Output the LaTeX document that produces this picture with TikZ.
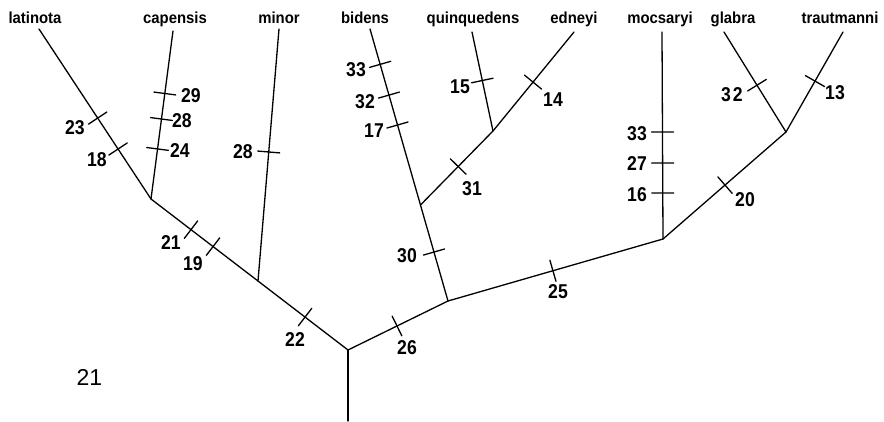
\documentclass[tikz,border=0pt]{standalone}
\usepackage{fontspec}
\setmainfont{Liberation Sans}
\newfontfamily\namefont[FakeStretch=0.93]{Liberation Sans}
\newfontfamily\numfont[FakeStretch=0.88]{Liberation Sans}
\begin{document}
\begin{tikzpicture}[x=1pt,y=-1pt,line width=1.3pt,line cap=round,line join=round,
  tipname/.style={font=\namefont\bfseries\fontsize{16}{16}\selectfont,anchor=base,inner sep=0},
  num/.style={font=\numfont\bfseries\fontsize{20}{20}\selectfont,inner sep=0},
  brtick/.pic={\draw (0,-11) -- (0,11);}]
\useasboundingbox (0,0) rectangle (884,422);
% junctions and tips
\coordinate (R) at (348,350);
\coordinate (Rb) at (348,421);
\coordinate (A) at (151,199);
\coordinate (M) at (258,281);
\coordinate (L) at (39,29);
\coordinate (Cp) at (173,31);
\coordinate (Mi) at (279,29);
\coordinate (B) at (448,301);
\coordinate (Bi) at (370,29);
\coordinate (C) at (420.5,205);
\coordinate (D) at (493,131);
\coordinate (Ed) at (574,32);
\coordinate (Q) at (472,32);
\coordinate (E) at (663,239);
\coordinate (Mo) at (662,32);
\coordinate (F) at (786,132);
\coordinate (G) at (724,32);
\coordinate (T) at (843,32);
% branches
\draw (Rb) -- (R);
\draw (R) -- (A) pic[pos=0.218,sloped]{brtick} pic[pos=0.685,sloped]{brtick} pic[pos=0.797,sloped]{brtick};
\draw (A) -- (L) pic[pos=0.294,sloped]{brtick} pic[pos=0.476,sloped]{brtick};
\draw (A) -- (Cp) pic[pos=0.298,sloped]{brtick} pic[pos=0.476,sloped]{brtick} pic[pos=0.628,sloped]{brtick};
\draw (M) -- (Mi) pic[pos=0.512,sloped]{brtick};
\draw (R) -- (B) pic[pos=0.49,sloped]{brtick};
\draw (B) -- (Bi) pic[pos=0.18,sloped]{brtick} pic[pos=0.647,sloped]{brtick} pic[pos=0.757,sloped]{brtick} pic[pos=0.87,sloped]{brtick};
\draw (C) -- (D) pic[pos=0.52,sloped]{brtick};
\draw (D) -- (Ed) pic[pos=0.494,sloped]{brtick};
\draw (D) -- (Q) pic[pos=0.51,sloped]{brtick};
\draw (B) -- (E) pic[pos=0.488,sloped]{brtick};
\draw (E) -- (Mo) pic[pos=0.222,sloped]{brtick} pic[pos=0.367,sloped]{brtick} pic[pos=0.517,sloped]{brtick};
\draw (E) -- (F) pic[pos=0.504,sloped]{brtick};
\draw (F) -- (G) pic[pos=0.468,sloped]{brtick};
\draw (F) -- (T) pic[pos=0.509,sloped]{brtick};
% taxon names
\node[tipname] (nlat) at (35,24) {latinota};
\node[tipname] (ncap) at (175,24) {capensis};
\node[tipname] (nmin) at (279,24) {minor};
\node[tipname] (nbid) at (365,24) {bidens};
\node[tipname] (nqui) at (473,24) {quinquedens};
\node[tipname] (nedn) at (574,24) {edneyi};
\node[tipname] (nmoc) at (660,24) {mocsaryi};
\node[tipname] (ngla) at (733,24) {glabra};
\node[tipname] (ntra) at (840,24) {trautmanni};
% character numbers
\node[num] (c23) at (75,128) {23};
\node[num] (c18) at (97,160) {18};
\node[num] (c29) at (191,96) {29};
\node[num] (c28a) at (182,121) {28};
\node[num] (c24) at (180,151) {24};
\node[num] (c28b) at (243,152) {28};
\node[num] (c21) at (171,243) {21};
\node[num] (c19) at (193,264) {19};
\node[num] (c22) at (295,340) {22};
\node[num] (c26) at (407,348) {26};
\node[num] (c30) at (407,256) {30};
\node[num] (c17) at (374,131) {17};
\node[num] (c32a) at (365,102) {32};
\node[num] (c33a) at (356,70) {33};
\node[num] (c31) at (472,189) {31};
\node[num] (c14) at (553,100) {14};
\node[num] (c15) at (460,87) {15};
\node[num] (c25) at (558,292) {25};
\node[num] (c33b) at (637,134) {33};
\node[num] (c27) at (637,164) {27};
\node[num] (c16) at (637,195) {16};
\node[num] (c20) at (745,200) {20};
\node[num] (c32b) at (732,95) {3\hspace{2pt}2};
\node[num] (c13) at (835,93) {13};
% figure number
\node[font=\fontsize{23}{23}\selectfont,inner sep=0] (fig) at (89.5,377.5) {21};
\end{tikzpicture}
\end{document}
